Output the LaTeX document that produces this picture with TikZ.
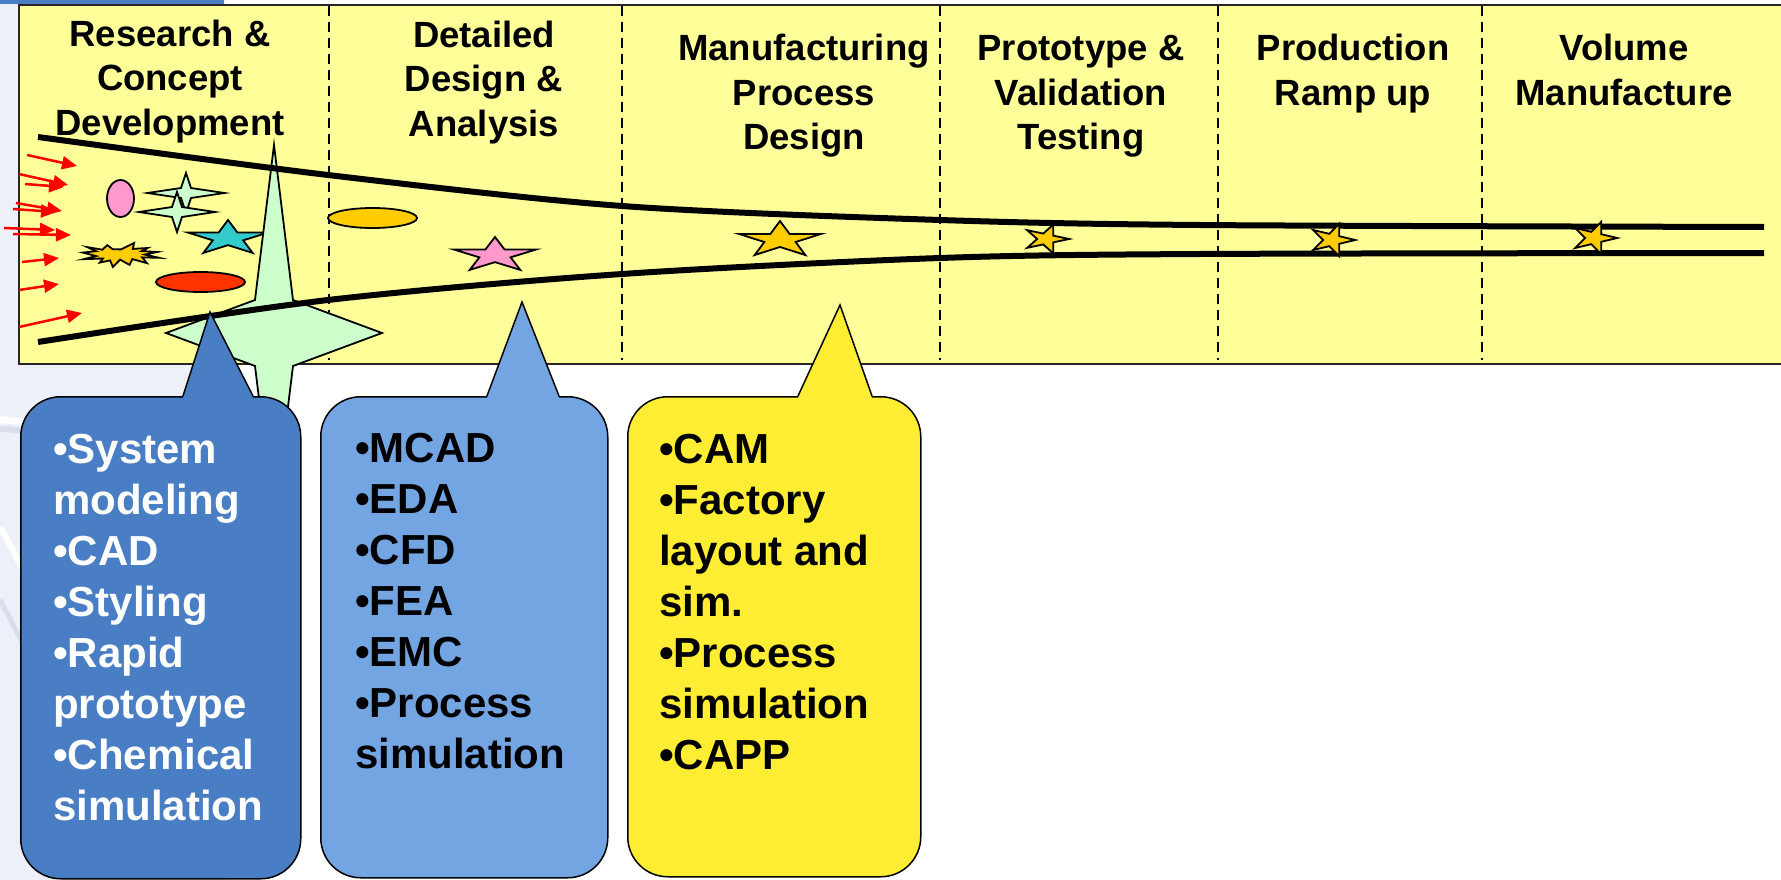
\documentclass[tikz,border=0pt]{standalone}
\usepackage{fontspec}
\setmainfont{Liberation Sans}
\usetikzlibrary{arrows.meta}
\definecolor{ylw}{HTML}{FFFF99}
\definecolor{lav}{HTML}{EDF0F8}
\definecolor{lavdark}{HTML}{D9DDEC}
\definecolor{stripc}{HTML}{4A7EC4}
\definecolor{cblue}{HTML}{4A7EC4}
\definecolor{clblue}{HTML}{73A5E3}
\definecolor{cyel}{HTML}{FFED33}
\definecolor{pinkc}{HTML}{FF99CC}
\definecolor{mint}{HTML}{CCFFCC}
\definecolor{tealc}{HTML}{33CCCC}
\definecolor{goldc}{HTML}{FFCC00}
\definecolor{redc}{HTML}{FF3300}
\newcommand{\fourstar}[7]{\draw[#7] ({#1+#3},#2) -- ({#1+#5},{#2-#6}) -- (#1,{#2-#4}) -- ({#1-#5},{#2-#6}) -- ({#1-#3},#2) -- ({#1-#5},{#2+#6}) -- (#1,{#2+#4}) -- ({#1+#5},{#2+#6}) -- cycle;}
\newcommand{\fivestar}[6]{\draw[#6] ({#1+#3*cos(#5)},{#2-#4*sin(#5)}) \foreach \k in {1,...,9}{ -- ({#1+#3*(1-0.618*mod(\k,2))*cos(#5+36*\k)},{#2-#4*(1-0.618*mod(\k,2))*sin(#5+36*\k)})} -- cycle;}
\begin{document}
\begin{tikzpicture}[x=1pt,y=-1pt,
  head/.style={anchor=north, inner sep=0pt, align=center, font=\fontsize{36.5}{44.5}\selectfont\bfseries},
  ctext/.style={anchor=north west, inner sep=0pt, align=left, font=\fontsize{42}{51}\selectfont\bfseries},
  body/.style={draw=black, line width=1.5pt, rounded corners=40pt, anchor=north west, inner sep=0pt},
  pointer/.style={draw=black, line width=1.5pt, line join=miter},
  shp/.style={draw=black, line width=1.8pt, line join=miter},
  tube/.style={line width=6pt},
  sep/.style={line width=2pt, dash pattern=on 10pt off 6pt},
  redarrow/.style={draw=red, line width=2.5pt, -{Triangle[length=15pt,width=13pt,fill=red]}},
]
\useasboundingbox (0,0) rectangle (1781,880);
\fill[white] (0,0) rectangle (1781,880);
\fill[lav] (0,0) rectangle (225,880);
\draw[lavdark, line width=6pt] (0,429) .. controls (8,429) and (16,430) .. (24,431);
\draw[white, line width=7pt] (0,420) .. controls (8,420) and (16,421) .. (24,422);
\draw[white, line width=6pt] (0,528) .. controls (8,540) and (16,556) .. (24,572);
\draw[lavdark, line width=5pt] (0,600) .. controls (8,615) and (16,630) .. (24,646);
\fill[stripc] (0,0) rectangle (224,4.5);
% main band
\draw[fill=ylw, line width=1.5pt, draw=black!85] (19,5) rectangle (1800,364);
\foreach \x in {329,622,940,1218,1482} \draw[sep] (\x,6) -- (\x,360);
% incoming arrows
\draw[redarrow] (27,155) -- (77,166);
\draw[redarrow] (19,174) -- (68,185);
\draw[redarrow] (25,184) -- (64,187);
\draw[redarrow] (16,203) -- (62,211);
\draw[redarrow] (13,209) -- (56,212);
\draw[redarrow] (4,228) -- (55,230);
\draw[redarrow] (13,234) -- (71,235);
\draw[redarrow] (22,262) -- (59,258);
\draw[redarrow] (19,290) -- (59,284);
\draw[redarrow] (19,327) -- (82,313);
% ideas
\draw[shp, fill=pinkc] (120.5,198.5) ellipse [x radius=13.5, y radius=18.5];
\fourstar{186}{193}{38.5}{20}{5}{5}{shp,fill=mint}
\fourstar{177}{212}{38}{20}{5}{5}{shp,fill=mint}
\fivestar{228}{238.2}{42}{18.2}{90}{shp,fill=tealc}
\draw[shp, fill=goldc] (121.0,249.4) -- (134.1,243.0) -- (132.8,248.9) -- (147.7,248.0) -- (141.8,251.1) -- (157.2,252.0) -- (145.0,254.6) -- (159.0,257.8) -- (142.2,257.4) -- (146.9,263.1) -- (132.3,259.1) -- (129.6,264.9) -- (120.1,259.6) -- (112.9,267.0) -- (110.1,260.4) -- (99.8,262.6) -- (102.9,258.5) -- (83.5,259.2) -- (96.1,256.1) -- (83.0,252.6) -- (96.0,251.2) -- (87.2,247.1) -- (102.4,249.7) -- (107.3,245.1) -- (112.6,249.2) -- cycle;
\draw[shp, fill=redc] (200.5,282) ellipse [x radius=44.5, y radius=10];
\draw[shp, fill=goldc] (372.5,218) ellipse [x radius=44.5, y radius=10];
\fourstar{274}{333}{108}{188}{19}{33}{shp,fill=mint}
% funnel
\draw[tube] plot[smooth, tension=0.5] coordinates {(38,137) (328,175) (622,206) (940,220) (1200,225) (1764,227)};
\draw[tube] plot[smooth, tension=0.5] coordinates {(38,342) (328,300) (622,274) (940,258) (1200,254) (1764,253)};
\fivestar{495}{255.2}{43}{18.2}{90}{shp,fill=pinkc}
\fivestar{780}{239.8}{43}{18.8}{90}{shp,fill=goldc}
\fivestar{1046}{239}{23.2}{15}{0}{shp,fill=goldc}
\fivestar{1332}{240}{23.2}{17}{0}{shp,fill=goldc}
\fivestar{1594}{238}{23.2}{17}{0}{shp,fill=goldc}
% headings
\node[head] (h1) at (170,16) {\rule{0pt}{30pt}Research \&\\Concept\\Development};
\node[head] (h2) at (484,17) {\rule{0pt}{30pt}Detailed\\Design \&\\Analysis};
\node[head] (h3) at (804,30.5) {\rule{0pt}{30pt}Manufacturing\\Process\\Design};
\node[head] (h4) at (1081,30.5) {\rule{0pt}{30pt}Prototype \&\\Validation\\Testing};
\node[head] (h5) at (1353,30.5) {\rule{0pt}{30pt}Production\\Ramp up};
\node[head] (h6) at (1624,30.5) {\rule{0pt}{30pt}Volume\\Manufacture};
% callout 1
\node[body, fill=cblue, minimum width=280pt, minimum height=482pt] (b1) at (20,396) {};
\coordinate (p1a) at (183,396); \coordinate (p1) at (210,312); \coordinate (p1b) at (253,396);
\fill[cblue] ([yshift=-2pt]p1a) -- (p1) -- ([yshift=-2pt]p1b) -- cycle;
\draw[pointer] (p1a) -- (p1) -- (p1b);
\node[ctext, text=white] (t1) at (53,428) {\rule{0pt}{35pt}•System\\modeling\\•CAD\\•Styling\\•Rapid\\prototype\\•Chemical\\simulation};
% callout 2
\node[body, fill=clblue, minimum width=287pt, minimum height=481pt] (b2) at (320,396) {};
\coordinate (p2a) at (487,396); \coordinate (p2) at (522,302); \coordinate (p2b) at (559,396);
\fill[clblue] ([yshift=-2pt]p2a) -- (p2) -- ([yshift=-2pt]p2b) -- cycle;
\draw[pointer] (p2a) -- (p2) -- (p2b);
\node[ctext, text=black] (t2) at (355,427) {\rule{0pt}{35pt}•MCAD\\•EDA\\•CFD\\•FEA\\•EMC\\•Process\\simulation};
% callout 3
\node[body, fill=cyel, minimum width=293pt, minimum height=480pt] (b3) at (627,396) {};
\coordinate (p3a) at (798,396); \coordinate (p3) at (840,305); \coordinate (p3b) at (872,396);
\fill[cyel] ([yshift=-2pt]p3a) -- (p3) -- ([yshift=-2pt]p3b) -- cycle;
\draw[pointer] (p3a) -- (p3) -- (p3b);
\node[ctext, text=black] (t3) at (659,428) {\rule{0pt}{35pt}•CAM\\•Factory\\layout and\\sim.\\•Process\\simulation\\•CAPP};
\end{tikzpicture}
\end{document}
